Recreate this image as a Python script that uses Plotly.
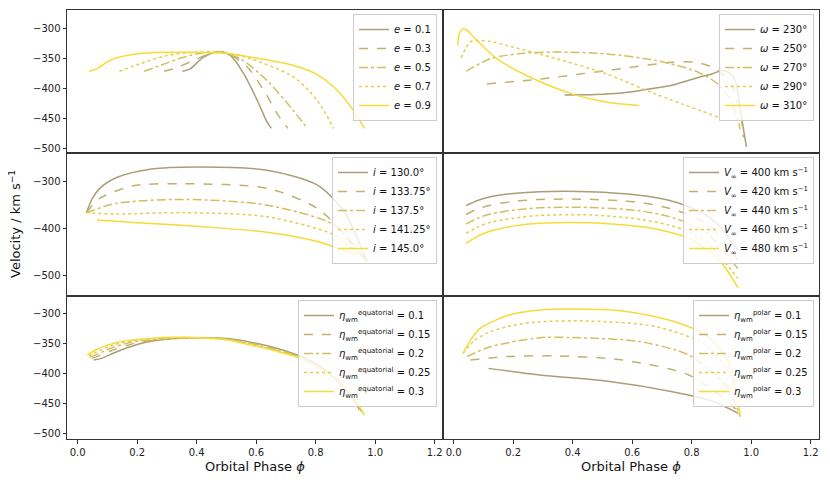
import plotly.graph_objects as go
from plotly.subplots import make_subplots

# ---- data ----
# panel 1: eccentricity
e_labels = ["<i>e</i> = 0.1", "<i>e</i> = 0.3", "<i>e</i> = 0.5", "<i>e</i> = 0.7", "<i>e</i> = 0.9"]
e_phase = [
    [0.352, 0.378, 0.423, 0.474, 0.514, 0.558, 0.604, 0.637, 0.651],
    [0.29, 0.322, 0.39, 0.457, 0.502, 0.57, 0.626, 0.671, 0.707],
    [0.223, 0.277, 0.356, 0.435, 0.48, 0.547, 0.637, 0.716, 0.772],
    [0.14, 0.209, 0.3, 0.412, 0.48, 0.581, 0.727, 0.806, 0.86],
    [0.038, 0.063, 0.108, 0.164, 0.243, 0.4, 0.5, 0.6, 0.7, 0.75, 0.8, 0.863, 0.919, 0.964],
]
e_vel = [
    [-371, -367, -347.5, -338, -345, -375, -420, -456, -466],
    [-371, -367, -353, -339, -340.6, -364, -403, -442, -466],
    [-371, -361.5, -347.5, -339, -339, -350, -386.6, -431, -466],
    [-371, -358.6, -344.7, -339, -339, -350, -381, -420, -466],
    [-371, -367, -353, -344.7, -340, -339.5, -341, -349, -358, -365, -375, -398, -431, -466],
]

# panel 2: argument of periastron
w_labels = ["<i>ω</i> = 230°", "<i>ω</i> = 250°", "<i>ω</i> = 270°", "<i>ω</i> = 290°", "<i>ω</i> = 310°"]
w_phase = [
    [0.373, 0.45, 0.512, 0.6, 0.679, 0.75, 0.824, 0.87, 0.90, 0.925, 0.946, 0.963, 0.975, 0.984],
    [0.111, 0.289, 0.512, 0.735, 0.813, 0.88, 0.935, 0.952, 0.963, 0.974],
    [0.042, 0.123, 0.234, 0.345, 0.512, 0.679, 0.824, 0.901, 0.946, 0.963],
    [0.025, 0.04, 0.056, 0.078, 0.12, 0.178, 0.345, 0.512, 0.679, 0.888],
    [0.013, 0.02, 0.033, 0.045, 0.078, 0.145, 0.245, 0.4, 0.512, 0.623],
]
w_vel = [
    [-410.6, -410, -409, -405, -399, -392, -381, -375, -370, -373, -386, -432, -470, -497],
    [-392, -384, -370, -356, -356, -367, -392, -420, -437, -481],
    [-371, -350, -341, -339, -342, -353, -373, -398, -437, -467.5],
    [-348.6, -333, -322, -320, -321, -328, -350, -375, -409, -447],
    [-328, -307, -300, -303, -319.6, -350, -378, -409, -422, -428],
]

# panel 3: inclination
i_labels = ["<i>i</i> = 130.0°", "<i>i</i> = 133.75°", "<i>i</i> = 137.5°", "<i>i</i> = 141.25°", "<i>i</i> = 145.0°"]
i_phase = [
    [0.029, 0.05, 0.074, 0.131, 0.243, 0.412, 0.637, 0.806, 0.896, 0.94, 0.973],
    [0.029, 0.074, 0.187, 0.356, 0.637, 0.806, 0.919, 0.973],
    [0.029, 0.131, 0.356, 0.637, 0.863, 0.931, 0.973],
    [0.029, 0.131, 0.356, 0.637, 0.863, 0.931, 0.964],
    [0.065, 0.187, 0.412, 0.637, 0.806, 0.936],
]
i_vel = [
    [-366.4, -335, -314, -290.6, -272.8, -267.9, -275, -307, -364, -421, -471],
    [-366.4, -335.6, -308.5, -304, -314, -357, -428, -471],
    [-366.4, -346, -337.7, -350, -392.7, -442.6, -471],
    [-366.4, -369, -366, -375, -414, -447, -464],
    [-382, -387, -396, -408, -428, -457],
]

# panel 4: terminal wind velocity
v_labels = ["<i>V</i><sub>∞</sub> = 400 km s<sup>−1</sup>", "<i>V</i><sub>∞</sub> = 420 km s<sup>−1</sup>",
            "<i>V</i><sub>∞</sub> = 440 km s<sup>−1</sup>", "<i>V</i><sub>∞</sub> = 460 km s<sup>−1</sup>",
            "<i>V</i><sub>∞</sub> = 480 km s<sup>−1</sup>"]
v_phase = [0.042, 0.08, 0.123, 0.2, 0.289, 0.456, 0.623, 0.72, 0.79, 0.85, 0.9, 0.955]
v_vel = [
    [-351, -340, -332, -325, -321, -321, -328.5, -339, -353.5, -372, -400, -446],
    [-370, -358, -350, -342, -337.7, -337.5, -344, -356, -371, -390, -420, -468],
    [-390.6, -378, -369, -361, -355.6, -355, -362, -374, -389, -410, -442, -486],
    [-410.6, -397, -387, -378, -372, -371, -380, -392, -407, -430, -463, -507],
    [-432, -417, -405.6, -395, -389, -387.8, -396, -407, -421, -445, -473, -527],
]

# panel 5: equatorial wind-momentum ratio
eq_labels = ["<i>η</i><sub>wm</sub><sup>equatorial</sup> = 0.1", "<i>η</i><sub>wm</sub><sup>equatorial</sup> = 0.15",
             "<i>η</i><sub>wm</sub><sup>equatorial</sup> = 0.2", "<i>η</i><sub>wm</sub><sup>equatorial</sup> = 0.25",
             "<i>η</i><sub>wm</sub><sup>equatorial</sup> = 0.3"]
eq_phase = [
    [0.054, 0.08, 0.131, 0.2, 0.243, 0.33, 0.412, 0.5, 0.581, 0.66, 0.75, 0.82, 0.88, 0.92, 0.947],
    [0.048, 0.075, 0.125, 0.19, 0.243, 0.33, 0.412, 0.5, 0.581, 0.66, 0.75, 0.82, 0.87, 0.92, 0.952],
    [0.042, 0.07, 0.118, 0.18, 0.243, 0.33, 0.412, 0.5, 0.581, 0.66, 0.75, 0.82, 0.867, 0.92, 0.956],
    [0.037, 0.065, 0.112, 0.175, 0.243, 0.33, 0.412, 0.5, 0.581, 0.66, 0.75, 0.82, 0.865, 0.92, 0.96],
    [0.032, 0.06, 0.108, 0.17, 0.243, 0.33, 0.412, 0.5, 0.581, 0.66, 0.75, 0.82, 0.863, 0.92, 0.964],
]
eq_vel = [
    [-377.8, -375, -364, -352, -347, -342, -340.6, -342, -348, -357, -372, -390, -415, -438, -461],
    [-375, -370, -360, -350, -345.5, -341.5, -340.6, -342.5, -349, -358.5, -373, -391, -412, -437, -463],
    [-373, -367, -357, -348, -344, -341, -340.6, -343, -350, -360, -373.5, -392, -410, -436, -465],
    [-371, -364, -354, -346.5, -343, -340.5, -340.6, -343.5, -351.5, -361, -374, -393, -409, -435.5, -467],
    [-369.5, -361, -351.7, -345, -341.7, -340, -340.6, -344, -352.8, -362, -375, -394, -408, -435, -469.5],
]

# panel 6: polar wind-momentum ratio
po_labels = ["<i>η</i><sub>wm</sub><sup>polar</sup> = 0.1", "<i>η</i><sub>wm</sub><sup>polar</sup> = 0.15",
             "<i>η</i><sub>wm</sub><sup>polar</sup> = 0.2", "<i>η</i><sub>wm</sub><sup>polar</sup> = 0.25",
             "<i>η</i><sub>wm</sub><sup>polar</sup> = 0.3"]
po_phase = [
    [0.117, 0.289, 0.512, 0.735, 0.868, 0.957],
    [0.056, 0.178, 0.345, 0.568, 0.79, 0.935, 0.96],
    [0.045, 0.123, 0.289, 0.4, 0.623, 0.79, 0.913, 0.963],
    [0.031, 0.07, 0.123, 0.2, 0.289, 0.456, 0.679, 0.846, 0.935, 0.963],
    [0.031, 0.06, 0.089, 0.178, 0.289, 0.4, 0.568, 0.735, 0.846, 0.924, 0.963],
]
po_vel = [
    [-391.7, -402.8, -412.8, -430.6, -446, -466.7],
    [-377.8, -372, -371, -377.8, -402.8, -452.8, -469.5],
    [-372, -355.6, -340.6, -340.3, -347, -369.5, -419.5, -472],
    [-366.7, -345, -330.6, -320, -314, -312.8, -322, -352.8, -408, -472],
    [-366.7, -342, -325, -304, -294.5, -292.8, -296, -312.8, -336, -380.6, -472],
]

colors = ["#ab9e76", "#c1b16d", "#d3bf60", "#e6cd4c", "#f7db36"]
dashes = ["solid", "dash", "dashdot", "dot", "solid"]

panels = [
    (1, 1, e_labels, e_phase, e_vel),
    (1, 2, w_labels, w_phase, w_vel),
    (2, 1, i_labels, i_phase, i_vel),
    (2, 2, v_labels, [v_phase] * 5, v_vel),
    (3, 1, eq_labels, eq_phase, eq_vel),
    (3, 2, po_labels, po_phase, po_vel),
]

fig = make_subplots(rows=3, cols=2, horizontal_spacing=0, vertical_spacing=0)

for k, (r, c, labels, phases, vels) in enumerate(panels):
    leg = "legend" if k == 0 else "legend%d" % (k + 1)
    for j in range(5):
        fig.add_trace(go.Scatter(
            x=phases[j], y=vels[j], mode="lines", name=labels[j],
            line=dict(color=colors[j], dash=dashes[j], width=1.5, shape="spline", smoothing=0.8),
            legend=leg, showlegend=True), row=r, col=c)

# the page body has an 8px margin, so the figure sits at (8, 8) in the window.
# target plot area in window px: x 67..819, y 10..439
OFF = 8
W, H = 830 - OFF, 485 - OFF
L, T = 67 - OFF, 10 - OFF
R, B = W - (819 - OFF), H - (439 - OFF)
pw, ph = W - L - R, H - T - B

def px_x(p):
    # window px -> paper x
    return (p - OFF - L) / pw

def px_y(p):
    # window px -> paper y
    return 1 - (p - OFF - T) / ph

leg_pos = [(437, 14), (814, 14), (437, 157), (814, 157), (437, 300), (814, 300)]
legend_style = dict(xanchor="right", yanchor="top", bgcolor="rgba(255,255,255,0.8)",
                    bordercolor="#cccccc", borderwidth=1, font=dict(size=10, color="#111"),
                    tracegroupgap=0, itemwidth=30)
lay = {}
for k, (lx, ly) in enumerate(leg_pos):
    key = "legend" if k == 0 else "legend%d" % (k + 1)
    lay[key] = dict(x=px_x(lx), y=px_y(ly), **legend_style)
fig.update_layout(**lay)

yranges = {1: [-507, -269], 2: [-545, -238], 3: [-509.5, -271]}
ydticks = {1: 50, 2: 100, 3: 50}
for r in range(1, 4):
    for c in range(1, 3):
        fig.update_xaxes(range=[-0.036, 1.228], tick0=0, dtick=0.2, tickformat=".1f",
                         showline=True, mirror=True, linecolor="#333", linewidth=1,
                         ticks="outside" if r == 3 else "", ticklen=3.5, tickcolor="#333",
                         showticklabels=(r == 3), showgrid=False, zeroline=False,
                         tickfont=dict(size=10, color="#222"), row=r, col=c)
        fig.update_yaxes(range=yranges[r], dtick=ydticks[r], tick0=-500,
                         showline=True, mirror=True, linecolor="#333", linewidth=1,
                         ticks="outside" if c == 1 else "", ticklen=3.5, tickcolor="#333",
                         showticklabels=(c == 1), showgrid=False, zeroline=False,
                         tickfont=dict(size=10, color="#222"), row=r, col=c)

fig.add_annotation(text="Velocity / km s<sup>−1</sup>", x=px_x(15), y=px_y(224), xref="paper", yref="paper",
                   xanchor="center", yanchor="middle",
                   textangle=-90, showarrow=False, font=dict(size=13, color="#111"))
for cx in (255, 631):
    fig.add_annotation(text="Orbital Phase <i>ϕ</i>", x=px_x(cx), y=px_y(466), xref="paper", yref="paper",
                       xanchor="center", yanchor="middle",
                       showarrow=False, font=dict(size=13, color="#111"))

fig.update_layout(width=W, height=H, margin=dict(l=L, r=R, t=T, b=B),
                  paper_bgcolor="white", plot_bgcolor="white",
                  font=dict(family="DejaVu Sans", size=10, color="#222"))

fig.write_html("out.html")
